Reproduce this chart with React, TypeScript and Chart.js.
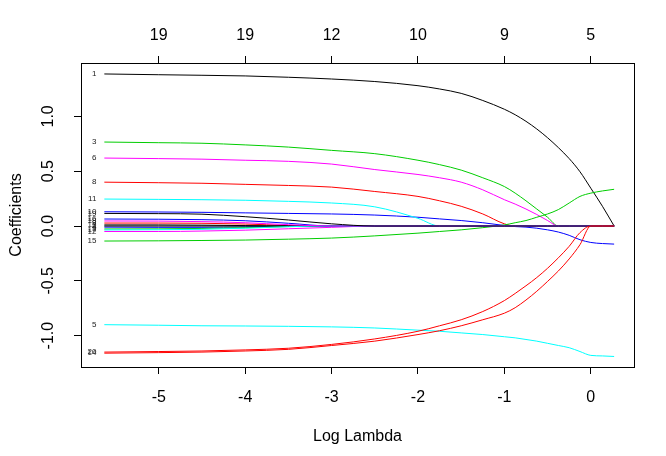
import React, { useEffect, useRef } from "react";
import { Chart, registerables } from "chart.js";

Chart.register(...registerables);

// log(lambda) grid where coefficients were read
const logLambda = [-5.63, -5.0, -4.5, -4.0, -3.5, -3.0, -2.5, -2.0, -1.75, -1.5, -1.25, -1.0, -0.875, -0.75, -0.625, -0.5, -0.375, -0.25, -0.125, 0.0, 0.135, 0.27];

const coef1 = [1.387, 1.38, 1.375, 1.369, 1.357, 1.341, 1.318, 1.28, 1.25, 1.21, 1.145, 1.065, 1.015, 0.955, 0.885, 0.805, 0.715, 0.615, 0.495, 0.345, 0.18, 0];
const coef2 = [0.027, 0.027, 0.025, 0.018, 0.005, 0, 0, 0, 0, 0, 0, 0, 0, 0, 0, 0, 0, 0, 0, 0, 0, 0];
const coef3 = [0.766, 0.76, 0.755, 0.74, 0.72, 0.69, 0.66, 0.6, 0.56, 0.51, 0.44, 0.36, 0.3, 0.23, 0.155, 0.08, 0, 0, 0, 0, 0, 0];
const coef4 = [-0.01, -0.012, -0.012, -0.008, -0.002, 0, 0, 0, 0, 0, 0, 0, 0, 0, 0, 0, 0, 0, 0, 0, 0, 0];
const coef5 = [-0.9, -0.905, -0.91, -0.912, -0.915, -0.92, -0.93, -0.95, -0.96, -0.975, -0.99, -1.01, -1.02, -1.035, -1.05, -1.07, -1.09, -1.11, -1.145, -1.18, -1.185, -1.19];
const coef6 = [0.62, 0.615, 0.61, 0.6, 0.59, 0.565, 0.515, 0.47, 0.44, 0.4, 0.33, 0.24, 0.2, 0.155, 0.105, 0.05, 0, 0, 0, 0, 0, 0];
const coef7 = [0, 0, 0, 0, 0, 0, 0, 0, 0, 0, 0, 0, 0, 0, 0, 0, 0, 0, 0, 0, 0, 0];
const coef8 = [0.4, 0.395, 0.39, 0.38, 0.37, 0.355, 0.315, 0.27, 0.23, 0.18, 0.11, 0.02, 0, 0, 0, 0, 0, 0, 0, 0, 0, 0];
const coef9 = [-0.027, -0.026, -0.022, -0.015, -0.005, 0, 0, 0, 0, 0, 0, 0, 0, 0, 0, 0, 0, 0, 0, 0, 0, 0];
const coef10 = [0.13, 0.128, 0.125, 0.12, 0.115, 0.11, 0.1, 0.08, 0.065, 0.05, 0.03, 0.005, -0.005, -0.01, -0.02, -0.035, -0.055, -0.085, -0.125, -0.15, -0.16, -0.165];
const coef11 = [0.246, 0.243, 0.24, 0.235, 0.225, 0.21, 0.175, 0.07, 0, 0, 0, 0, 0, 0, 0, 0, 0, 0, 0, 0, 0, 0];
const coef12 = [-0.05, -0.05, -0.046, -0.038, -0.025, -0.012, 0, 0, 0, 0, 0, 0, 0, 0, 0, 0, 0, 0, 0, 0, 0, 0];
const coef13 = [0.01, 0.01, 0.008, 0.004, 0, 0, 0, 0, 0, 0, 0, 0, 0, 0, 0, 0, 0, 0, 0, 0, 0, 0];
const coef14 = [-1.16, -1.155, -1.15, -1.14, -1.125, -1.09, -1.05, -0.99, -0.955, -0.91, -0.855, -0.795, -0.745, -0.675, -0.595, -0.505, -0.41, -0.3, -0.17, 0, 0, 0];
const coef15 = [-0.137, -0.135, -0.132, -0.128, -0.12, -0.11, -0.09, -0.065, -0.05, -0.035, -0.015, 0.01, 0.03, 0.05, 0.08, 0.11, 0.15, 0.21, 0.27, 0.3, 0.32, 0.335];
const coef16 = [0.064, 0.062, 0.058, 0.048, 0.025, 0, 0, 0, 0, 0, 0, 0, 0, 0, 0, 0, 0, 0, 0, 0, 0, 0];
const coef17 = [-0.036, -0.034, -0.03, -0.02, -0.006, 0, 0, 0, 0, 0, 0, 0, 0, 0, 0, 0, 0, 0, 0, 0, 0, 0];
const coef18 = [0.046, 0.045, 0.04, 0.03, 0.012, 0, 0, 0, 0, 0, 0, 0, 0, 0, 0, 0, 0, 0, 0, 0, 0, 0];
const coef19 = [0.115, 0.113, 0.108, 0.085, 0.055, 0.02, 0, 0, 0, 0, 0, 0, 0, 0, 0, 0, 0, 0, 0, 0, 0, 0];
const coef20 = [-1.15, -1.145, -1.14, -1.13, -1.115, -1.08, -1.03, -0.96, -0.91, -0.855, -0.78, -0.68, -0.615, -0.545, -0.47, -0.385, -0.29, -0.185, -0.06, 0, 0, 0];

const xTicks = [-5, -4, -3, -2, -1, 0];
const dfLabels = ["19", "19", "12", "10", "9", "5"];
const yTicks = [-1.0, -0.5, 0.0, 0.5, 1.0];
const palette = ["#000000", "#FF0000", "#00CD00", "#0000FF", "#00FFFF", "#FF00FF"];

const allCoefs = [coef1, coef2, coef3, coef4, coef5, coef6, coef7, coef8, coef9, coef10, coef11, coef12, coef13, coef14, coef15, coef16, coef17, coef18, coef19, coef20];

const FONT = "'Liberation Sans', Arial, sans-serif";

const rPlotPlugin = {
  id: "rPlot",
  afterDraw(chart: any) {
    const ctx = chart.ctx;
    const { left, right, top, bottom } = chart.chartArea;
    const xs = chart.scales.x;
    const ys = chart.scales.y;
    ctx.save();
    // box
    ctx.strokeStyle = "#000";
    ctx.lineWidth = 1;
    ctx.strokeRect(Math.round(left) + 0.5, Math.round(top) + 0.5, Math.round(right - left), Math.round(bottom - top));
    // y tick labels (rotated like R)
    ctx.fillStyle = "#000";
    ctx.font = `16px ${FONT}`;
    ctx.textAlign = "center";
    ctx.textBaseline = "middle";
    yTicks.forEach((v) => {
      const py = ys.getPixelForValue(v);
      ctx.save();
      ctx.translate(49, py);
      ctx.rotate(-Math.PI / 2);
      ctx.fillText(v.toFixed(1), 0, 0);
      ctx.restore();
    });
    // axis titles
    ctx.save();
    ctx.translate(17, (top + bottom) / 2);
    ctx.rotate(-Math.PI / 2);
    ctx.fillText("Coefficients", 0, 0);
    ctx.restore();
    ctx.fillText("Log Lambda", (left + right) / 2, 437);
    // variable labels at left end
    ctx.font = `8px ${FONT}`;
    ctx.textAlign = "right";
    ctx.fillStyle = "#222";
    allCoefs.forEach((c, i) => {
      const px = xs.getPixelForValue(logLambda[0]) - 8;
      const py = ys.getPixelForValue(c[0]);
      ctx.fillText(String(i + 1), px, py);
    });
    ctx.restore();
  },
};

export default function App() {
  const ref = useRef<HTMLCanvasElement | null>(null);
  useEffect(() => {
    if (!ref.current) return;
    const datasets = allCoefs.map((c, i) => ({
      label: String(i + 1),
      data: c.map((v, j) => ({ x: logLambda[j], y: v })),
      borderColor: palette[i % 6],
      backgroundColor: palette[i % 6],
      borderWidth: 1,
      pointRadius: 0,
      fill: false,
      cubicInterpolationMode: "monotone",
      order: 20 - i,
    }));
    const tickFont = { family: FONT, size: 16 };
    const chart = new Chart(ref.current, {
      type: "line",
      data: { datasets },
      options: {
        animation: false,
        responsive: false,
        devicePixelRatio: 1,
        layout: { padding: { left: 0, right: 32, top: 0, bottom: 0 } },
        plugins: { legend: { display: false }, tooltip: { enabled: false } },
        scales: {
          x: {
            type: "linear",
            position: "bottom",
            min: -5.9,
            max: 0.5,
            afterBuildTicks: (s: any) => {
              s.ticks = xTicks.map((v) => ({ value: v }));
            },
            afterFit: (s: any) => {
              s.height = 89;
            },
            ticks: {
              callback: (v: any) => String(v),
              font: tickFont,
              color: "#000",
              padding: 14,
              maxRotation: 0,
              autoSkip: false,
            },
            grid: { display: true, drawOnChartArea: false, drawTicks: true, tickLength: 7, color: "#000" },
            border: { display: false },
          },
          x2: {
            type: "linear",
            position: "top",
            min: -5.9,
            max: 0.5,
            afterBuildTicks: (s: any) => {
              s.ticks = xTicks.map((v) => ({ value: v }));
            },
            afterFit: (s: any) => {
              s.height = 63;
            },
            ticks: {
              callback: (_v: any, i: number) => dfLabels[i],
              font: tickFont,
              color: "#000",
              padding: 11,
              maxRotation: 0,
              autoSkip: false,
            },
            grid: { display: true, drawOnChartArea: false, drawTicks: true, tickLength: 7, color: "#000" },
            border: { display: false },
          },
          y: {
            type: "linear",
            position: "left",
            min: -1.286,
            max: 1.487,
            afterBuildTicks: (s: any) => {
              s.ticks = yTicks.map((v) => ({ value: v }));
            },
            afterFit: (s: any) => {
              s.width = 81;
            },
            ticks: { display: false },
            grid: { display: true, drawOnChartArea: false, drawTicks: true, tickLength: 7, color: "#000" },
            border: { display: false },
          },
        },
      },
      plugins: [rPlotPlugin],
    } as any);
    return () => chart.destroy();
  }, []);
  return (
    <div style={{ position: "absolute", left: 0, top: 0, width: 666, height: 456, background: "#fff" }}>
      <canvas ref={ref} width={666} height={456} />
    </div>
  );
}
